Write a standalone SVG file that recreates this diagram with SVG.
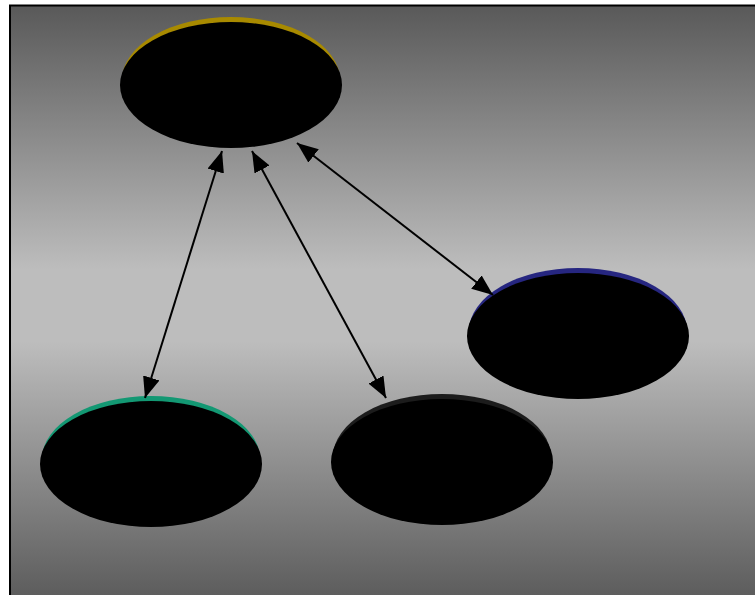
<svg xmlns="http://www.w3.org/2000/svg" width="755" height="595" viewBox="0 0 755 595">
  <defs>
    <linearGradient id="bg" x1="0" y1="0" x2="0" y2="1">
      <stop offset="0" stop-color="#595959"/>
      <stop offset="0.44" stop-color="#bdbdbd"/>
      <stop offset="0.56" stop-color="#bdbdbd"/>
      <stop offset="1" stop-color="#595959"/>
    </linearGradient>
    <marker id="ah" viewBox="0 0 21 17" refX="21" refY="8.5" markerWidth="21" markerHeight="17" markerUnits="userSpaceOnUse" orient="auto-start-reverse">
      <path d="M0,0 L21,8.5 L0,17 Z" fill="#000"/>
    </marker>
    <style>
      .node { fill: #000; }
      .edge { stroke: #000; stroke-width: 2; fill: none; marker-start: url(#ah); marker-end: url(#ah); }
    </style>
  </defs>
  <rect x="0" y="0" width="755" height="595" fill="#fff"/>
  <rect x="10" y="5.5" width="760" height="600" fill="url(#bg)" stroke="#000" stroke-width="2"/>
  <g id="node-top">
    <ellipse cx="231" cy="80" rx="109" ry="63" fill="#a88a00"/>
    <ellipse class="node" cx="231" cy="85" rx="111" ry="63"/>
  </g>
  <g id="node-right">
    <ellipse cx="578" cy="331" rx="109" ry="63" fill="#262680"/>
    <ellipse class="node" cx="578" cy="336" rx="111" ry="63"/>
  </g>
  <g id="node-left">
    <ellipse cx="151" cy="459" rx="109" ry="63" fill="#139873"/>
    <ellipse class="node" cx="151" cy="464" rx="111" ry="63"/>
  </g>
  <g id="node-middle">
    <ellipse cx="442" cy="457" rx="109" ry="63" fill="#1c1c1c"/>
    <ellipse class="node" cx="442" cy="462" rx="111" ry="63"/>
  </g>
  <g id="connectors">
    <line class="edge" x1="222" y1="151" x2="145" y2="398"/>
    <line class="edge" x1="252" y1="151" x2="386" y2="398"/>
    <line class="edge" x1="297" y1="143" x2="493" y2="295"/>
  </g>
</svg>
